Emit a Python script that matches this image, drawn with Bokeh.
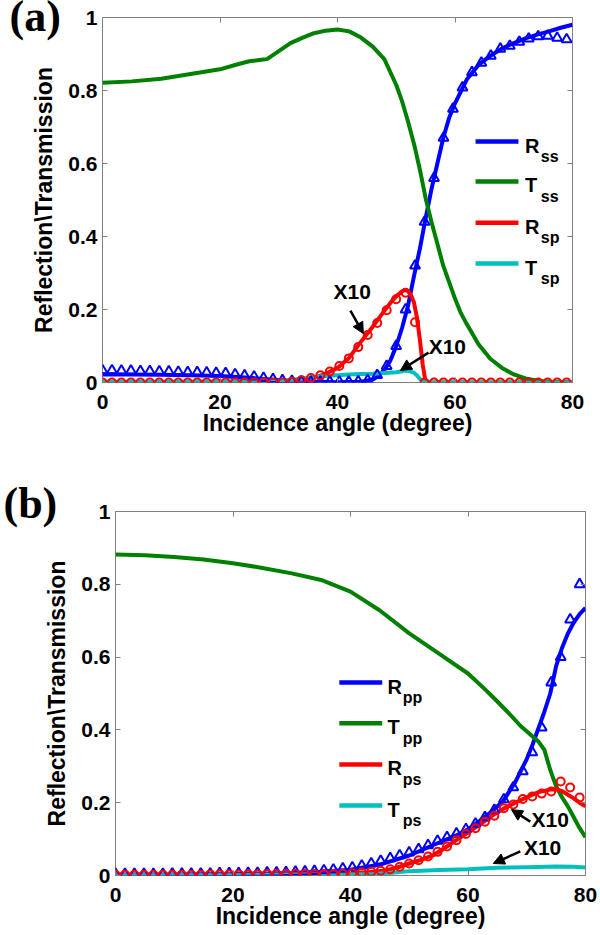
from bokeh.plotting import figure
from bokeh.models import (Range1d, FixedTicker, NumeralTickFormatter, LinearAxis,
                          Label, Arrow, NormalHead, CustomJSTickFormatter)
from bokeh.embed import file_html
from bokeh.resources import INLINE

# ---------------- data ----------------
x_ticks = [0, 20, 40, 60, 80]
y_ticks = [0, 0.2, 0.4, 0.6, 0.8, 1]

# measurement (marker) angles, degrees
angles_m = [0.00, 1.61, 3.22, 4.84, 6.45, 8.06, 9.67, 11.29, 12.90, 14.51,
            16.12, 17.73, 19.35, 20.96, 22.57, 24.18, 25.80, 27.41, 29.02, 30.63,
            32.24, 33.86, 35.47, 37.08, 38.69, 40.31, 41.92, 43.53, 45.14, 46.76,
            48.37, 49.98, 51.59, 53.20, 54.82, 56.43, 58.04, 59.65, 61.27, 62.88,
            64.49, 66.10, 67.71, 69.33, 70.94, 72.55, 74.16, 75.78, 77.39, 79.00]

# ----- panel (a): s-polarised incidence -----
a_Rss_x = [0, 5, 10, 15, 20, 25, 30, 35, 40, 44, 46, 47, 48, 49, 50, 51, 52, 53, 54, 55,
           56, 57, 58, 59, 60, 62, 64, 66, 68, 70, 72, 74, 76, 78, 80]
a_Rss = [0.022, 0.022, 0.021, 0.020, 0.018, 0.013, 0.006, 0.002, 0.001, 0.002, 0.008,
         0.018, 0.035, 0.06, 0.10, 0.15, 0.21, 0.29, 0.365, 0.45, 0.53, 0.60, 0.67,
         0.725, 0.765, 0.83, 0.87, 0.895, 0.915, 0.93, 0.943, 0.953, 0.962, 0.972, 0.98]

a_Tss_x = [0, 5, 10, 15, 20, 23, 25, 27, 28, 30, 32, 34, 36, 38, 40, 42, 44, 46, 48, 50,
           51, 52, 53, 54, 55, 56, 57, 58, 59, 60, 61, 62, 64, 66, 68, 70, 72, 74, 76, 78, 80]
a_Tss = [0.821, 0.825, 0.832, 0.845, 0.858, 0.872, 0.880, 0.884, 0.886, 0.908,
         0.93, 0.944, 0.957, 0.964, 0.967, 0.962, 0.945, 0.92, 0.885, 0.815,
         0.77, 0.715, 0.655, 0.585, 0.505, 0.44, 0.38, 0.32, 0.275, 0.23,
         0.19, 0.16, 0.105, 0.065, 0.04, 0.022, 0.011, 0.005, 0.002, 0.001, 0.0]

a_Rsp_x = [0, 10, 20, 28, 31, 34, 36, 38, 40, 42, 44, 46, 48, 49, 50, 51, 51.5, 52, 52.5,
           53, 53.5, 54, 54.5, 55, 60, 70, 80]
a_Rsp = [0, 0, 0.001, 0.002, 0.004, 0.007, 0.012, 0.024, 0.04, 0.068, 0.112, 0.153,
         0.197, 0.218, 0.236, 0.25, 0.253, 0.25, 0.24, 0.22, 0.18, 0.12, 0.05, 0, 0, 0, 0]

a_Tsp_x = [0, 10, 20, 30, 34, 36, 38, 40, 42, 44, 46, 48, 50, 51, 51.5, 52, 53, 53.5,
           54, 54.5, 55, 60, 70, 80]
a_Tsp = [0.002, 0.002, 0.003, 0.004, 0.01, 0.015, 0.018, 0.02, 0.022, 0.023, 0.024,
         0.026, 0.028, 0.031, 0.033, 0.032, 0.027, 0.02, 0.01, 0.003, 0, 0, 0, 0]

a_Rss_m = [0.033, 0.033, 0.032, 0.032, 0.031, 0.031, 0.030, 0.030, 0.029, 0.028,
           0.028, 0.027, 0.026, 0.025, 0.022, 0.019, 0.016, 0.012, 0.009, 0.006,
           0.004, 0.003, 0.002, 0.002, 0.002, 0.002, 0.002, 0.003, 0.006, 0.02,
           0.045, 0.10, 0.20, 0.32, 0.44, 0.56, 0.67, 0.75, 0.808, 0.85,
           0.876, 0.895, 0.914, 0.922, 0.933, 0.942, 0.948, 0.95, 0.944, 0.94]

a_Rsp_m = [0, 0, 0, 0, 0, 0, 0, 0, 0, 0,
           0, 0, 0, 0, 0, 0, 0, 0, 0, 0,
           0.002, 0.006, 0.012, 0.02, 0.03, 0.045, 0.066, 0.097, 0.13, 0.163,
           0.198, 0.228, 0.246, 0.165, 0, 0, 0, 0, 0, 0,
           0, 0, 0, 0, 0, 0, 0, 0, 0, 0]

# ----- panel (b): p-polarised incidence -----
b_Rpp_x = [0, 10, 20, 30, 35, 40, 45, 50, 55, 58, 60, 62, 64, 66, 68, 70, 71, 72, 73,
           74, 75, 76, 77, 78, 79, 80]
b_Rpp = [0.003, 0.003, 0.004, 0.007, 0.010, 0.016, 0.030, 0.055, 0.090, 0.110, 0.127,
         0.150, 0.175, 0.205, 0.255, 0.320, 0.360, 0.405, 0.450, 0.500, 0.575, 0.625,
         0.665, 0.695, 0.718, 0.735]

b_Tpp_x = [0, 5, 10, 15, 20, 25, 30, 35, 40, 45, 50, 55, 60, 63, 65, 67, 69, 71, 72,
           73, 74, 75, 76, 77, 78, 79, 80]
b_Tpp = [0.882, 0.880, 0.875, 0.868, 0.858, 0.845, 0.830, 0.812, 0.780, 0.728, 0.665,
         0.610, 0.555, 0.510, 0.478, 0.445, 0.410, 0.382, 0.368, 0.345, 0.290, 0.245,
         0.215, 0.190, 0.160, 0.130, 0.105]

b_Rps_x = [0, 10, 20, 30, 35, 40, 43, 46, 48, 50, 52, 54, 56, 58, 60, 62, 64, 66, 68,
           70, 72, 74, 75, 76, 77, 78, 79, 80]
b_Rps = [0.002, 0.002, 0.003, 0.004, 0.005, 0.007, 0.009, 0.014, 0.022, 0.033, 0.043,
         0.055, 0.075, 0.097, 0.118, 0.14, 0.163, 0.183, 0.2, 0.215, 0.229, 0.236,
         0.237, 0.232, 0.222, 0.212, 0.2, 0.19]

b_Tps_x = [0, 10, 20, 30, 40, 44, 46, 48, 50, 55, 60, 65, 70, 75, 78, 80]
b_Tps = [0.001, 0.001, 0.001, 0.002, 0.003, 0.004, 0.006, 0.009, 0.012, 0.015, 0.017,
         0.021, 0.023, 0.025, 0.024, 0.022]

b_Rpp_m = [0.004, 0.004, 0.004, 0.004, 0.004, 0.004, 0.005, 0.005, 0.005, 0.005,
           0.005, 0.006, 0.006, 0.006, 0.007, 0.007, 0.008, 0.008, 0.009, 0.010,
           0.011, 0.012, 0.014, 0.016, 0.019, 0.022, 0.027, 0.033, 0.040, 0.047,
           0.055, 0.063, 0.072, 0.083, 0.095, 0.105, 0.115, 0.127, 0.142, 0.160,
           0.180, 0.209, 0.242, 0.286, 0.338, 0.406, 0.53, 0.60, 0.703, 0.80]

b_Rps_m = [0.002, 0.002, 0.002, 0.002, 0.002, 0.002, 0.002, 0.002, 0.002, 0.002,
           0.003, 0.003, 0.003, 0.003, 0.003, 0.003, 0.004, 0.004, 0.004, 0.004,
           0.004, 0.004, 0.004, 0.004, 0.005, 0.006, 0.008, 0.010, 0.013, 0.017,
           0.024, 0.033, 0.042, 0.052, 0.065, 0.080, 0.097, 0.114, 0.130, 0.148,
           0.164, 0.185, 0.195, 0.210, 0.217, 0.225, 0.231, 0.258, 0.242, 0.214]

# ---------------- styling ----------------
FONT = "Liberation Sans"
SERIF = "Liberation Serif"
GREY = "#808080"
BLUE, GREEN, RED, CYAN = "#0000ff", "#008000", "#ff0000", "#00bfbf"
LW = 4


def style_axis(ax, ticks, labelled):
    ax.ticker = FixedTicker(ticks=ticks)
    ax.axis_line_color = None
    ax.major_tick_in = 5
    ax.major_tick_out = 0
    ax.minor_tick_line_color = None
    ax.major_tick_line_color = GREY
    if labelled:
        ax.major_label_text_font = FONT
        ax.major_label_text_font_style = "bold"
        ax.major_label_text_font_size = "21px"
        ax.major_label_text_color = "black"
        ax.axis_label_text_font = FONT
        ax.axis_label_text_font_style = "bold"
        ax.axis_label_text_font_size = "23px"
        ax.axis_label_text_color = "black"
    else:
        ax.formatter = CustomJSTickFormatter(code="return ''")
        ax.major_label_text_font_size = "0px"
        ax.major_label_standoff = 0


def make_panel(height, bl, br, bt, bb, tag, tag_offset, tag_standoff):
    p = figure(width=600, height=height, x_range=Range1d(0, 80), y_range=Range1d(0, 1),
               output_backend="svg", toolbar_location=None,
               min_border_left=bl, min_border_right=br, min_border_top=bt, min_border_bottom=bb,
               x_axis_label="Incidence angle (degree)",
               y_axis_label="Reflection\\Transmission", title=tag)
    p.grid.visible = False
    p.outline_line_color = GREY
    p.outline_line_width = 1
    p.background_fill_color = "white"
    p.border_fill_color = "white"
    # panel tag "(a)" / "(b)" drawn as the plot title, pulled into the corner
    p.title.text_font = SERIF
    p.title.text_font_style = "bold"
    p.title.text_font_size = "44px"
    p.title.text_color = "black"
    p.title.align = "left"
    p.title.vertical_align = "middle"
    p.title.offset = tag_offset
    p.title.standoff = tag_standoff
    style_axis(p.xaxis[0], x_ticks, True)
    style_axis(p.yaxis[0], y_ticks, True)
    p.yaxis[0].formatter = NumeralTickFormatter(format="0.[0]")
    p.xaxis[0].major_label_standoff = 12
    p.xaxis[0].axis_label_standoff = -2
    p.yaxis[0].major_label_standoff = 5
    p.yaxis[0].axis_label_standoff = 8
    top = LinearAxis()
    style_axis(top, x_ticks, False)
    p.add_layout(top, "above")
    right = LinearAxis()
    style_axis(right, y_ticks, False)
    p.add_layout(right, "right")
    return p


def text(p, x, y, s, size, align="left", baseline="alphabetic"):
    p.add_layout(Label(x=x, y=y, text=s, text_font=FONT, text_font_style="bold",
                       text_font_size=size, text_color="black",
                       text_align=align, text_baseline=baseline))


def arrow(p, xs, ys, xe, ye):
    p.add_layout(Arrow(end=NormalHead(size=11, fill_color="black", line_color="black"),
                       x_start=xs, y_start=ys, x_end=xe, y_end=ye,
                       line_color="black", line_width=2.5))


def legend(p, x0, x1, xt, xs, ys, main, subs, colors, dy_main, dy_sub):
    for y, m, s, c in zip(ys, main, subs, colors):
        p.add_layout(Arrow(start=None, end=None, x_start=x0, y_start=y, x_end=x1, y_end=y,
                           line_color=c, line_width=4.5))
        text(p, xt, y - dy_main, m, "20px")
        text(p, xs, y - dy_sub, s, "16px")


# ---------------- panel (a) ----------------
pa = make_panel(460, 102, 28, 17, 78, "(a)", -93, -49)
pa.line(a_Rss_x, a_Rss, line_color=BLUE, line_width=LW)
pa.line(a_Tss_x, a_Tss, line_color=GREEN, line_width=LW)
pa.line(a_Rsp_x, a_Rsp, line_color=RED, line_width=LW)
pa.line(a_Tsp_x, a_Tsp, line_color=CYAN, line_width=LW)
pa.scatter(angles_m, a_Rss_m, marker="triangle", size=10, fill_color=None,
           line_color=BLUE, line_width=2)
pa.scatter(angles_m, a_Rsp_m, marker="circle", size=8, fill_color=None,
           line_color=RED, line_width=2)
text(pa, 42.5, 0.249, "X10", "21px", align="center", baseline="middle")
arrow(pa, 42.2, 0.197, 44.4, 0.134)
text(pa, 58.7, 0.099, "X10", "21px", align="center", baseline="middle")
arrow(pa, 55.5, 0.082, 50.7, 0.033)
legend(pa, 63.5, 70.8, 71.9, 74.6, [0.660, 0.551, 0.438, 0.326],
       ["R", "T", "R", "T"], ["ss", "ss", "sp", "sp"], [BLUE, GREEN, RED, CYAN],
       0.011, 0.041)

# ---------------- panel (b) ----------------
pb = make_panel(475, 115, 15, 51, 60, "(b)", -112, -35)
pb.line(b_Rpp_x, b_Rpp, line_color=BLUE, line_width=LW)
pb.line(b_Tpp_x, b_Tpp, line_color=GREEN, line_width=LW)
pb.line(b_Rps_x, b_Rps, line_color=RED, line_width=LW)
pb.line(b_Tps_x, b_Tps, line_color=CYAN, line_width=LW)
pb.scatter(angles_m, b_Rpp_m, marker="triangle", size=10, fill_color=None,
           line_color=BLUE, line_width=2)
pb.scatter(angles_m, b_Rps_m, marker="circle", size=8, fill_color=None,
           line_color=RED, line_width=2)
text(pb, 74.0, 0.154, "X10", "21px", align="center", baseline="middle")
arrow(pb, 70.6, 0.148, 67.4, 0.181)
text(pb, 72.7, 0.077, "X10", "21px", align="center", baseline="middle")
arrow(pb, 68.9, 0.066, 64.3, 0.033)
legend(pb, 38.1, 45.4, 46.3, 48.9, [0.530, 0.418, 0.305, 0.192],
       ["R", "T", "R", "T"], ["pp", "pp", "ps", "ps"], [BLUE, GREEN, RED, CYAN],
       0.011, 0.041)

# two independent roots so that each panel keeps its own frame position
open("out.html", "w").write(file_html([pa, pb], INLINE))
